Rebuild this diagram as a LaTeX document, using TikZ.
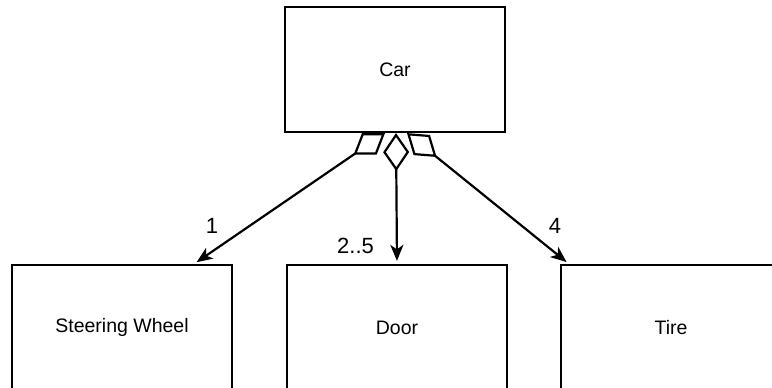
\documentclass[tikz,border=0pt]{standalone}
\usepackage{fontspec}
\setmainfont{Liberation Sans}
\usetikzlibrary{arrows.meta}
\begin{document}
\begin{tikzpicture}[x=1pt,y=-1pt,
  box/.style={draw=black,line width=2.2pt,fill=white,minimum width=220pt,minimum height=125pt,inner sep=0pt,font=\fontsize{19.5}{23}\selectfont},
  conn/.style={draw=black,line width=2.2pt,
    {Diamond[open,length=38pt,width=26pt,line width=2.2pt]}-{Stealth[length=16pt,width=13pt,inset=4.5pt]},shorten >=3pt},
  mult/.style={font=\fontsize{22}{25}\selectfont,inner sep=0pt}]
\useasboundingbox (0,0) rectangle (772,388);
\clip (0,0) rectangle (772,388);
\fill[white] (0,0) rectangle (772,388);
\node[box] (car) at (395,69.5) {Car};
\node[box] (sw) at (122,327.5) {Steering Wheel};
\node[box] (door) at (397,327.5) {Door};
\node[box] (tire) at (671,327.5) {Tire};
\coordinate (s1) at ([xshift=-10pt]car.south);
\coordinate (s2) at ([xshift=1pt]car.south);
\coordinate (s3) at ([xshift=12pt]car.south);
\draw[conn] (s1) -- ([xshift=-39pt]sw.north east);
\draw[conn] (s2) -- (door.north);
\draw[conn] (s3) -- ([xshift=9pt]tire.north west);
\node[mult] (m1) at (212,226) {1};
\node[mult] (m2) at (355.5,246) {2..5};
\node[mult] (m3) at (555,226) {4};
\end{tikzpicture}
\end{document}
